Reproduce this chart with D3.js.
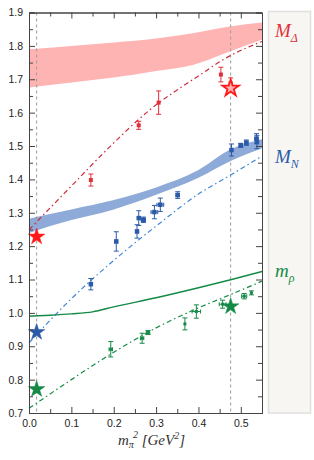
<!DOCTYPE html>
<html>
<head>
<meta charset="utf-8">
<script src="https://cdn.jsdelivr.net/npm/d3@7"></script>
<style>
  body { margin: 0; background: #fff; }
  svg text { font-family: "Liberation Sans", Arial, sans-serif; }
</style>
</head>
<body>
<svg id="chart"></svg>
<script>
// axis ticks
var xMajor = [0, 0.1, 0.2, 0.3, 0.4, 0.5];
var yMajor = [0.7, 0.8, 0.9, 1.0, 1.1, 1.2, 1.3, 1.4, 1.5, 1.6, 1.7, 1.8, 1.9];

// physical point and the heavy lattice point (vertical guides)
var guideX = [0.018, 0.476];

// bands: [m_pi^2, lower, upper]
var deltaBand = [[0, 1.675, 1.79], [0.1, 1.69, 1.80], [0.2, 1.705, 1.81], [0.3, 1.725, 1.822],
                 [0.387, 1.743, 1.838], [0.474, 1.783, 1.858], [0.55, 1.818, 1.87]];
var nucleonBand = [[0, 1.239, 1.282], [0.05, 1.26, 1.296], [0.1, 1.278, 1.31], [0.2, 1.31, 1.338],
                   [0.3, 1.354, 1.376], [0.4, 1.405, 1.428], [0.476, 1.455, 1.49], [0.55, 1.493, 1.52]];

// extrapolation curves: [m_pi^2, mass]
var deltaLine = [[0, 1.249], [0.1, 1.38], [0.183, 1.488], [0.285, 1.608], [0.4, 1.71], [0.474, 1.77], [0.55, 1.813]];
var nucleonLine = [[0, 0.91], [0.09, 1.03], [0.2, 1.157], [0.3, 1.26], [0.4, 1.356], [0.476, 1.413], [0.55, 1.47]];
var rhoLine = [[0, 0.714], [0.1, 0.80], [0.2, 0.882], [0.3, 0.955], [0.4, 1.015], [0.476, 1.055], [0.55, 1.095]];
var rhoCurve = [[0, 0.99], [0.05, 0.993], [0.1, 0.997], [0.15, 1.003], [0.2, 1.018], [0.3, 1.045],
                [0.4, 1.075], [0.476, 1.099], [0.55, 1.124]];

// lattice data: [m_pi^2, mass, err mass, err m_pi^2]
var deltaPts = [[0.146, 1.398, 0.018, 0], [0.259, 1.562, 0.012, 0], [0.306, 1.630, 0.035, 0],
                [0.453, 1.714, 0.022, 0], [0.476, 1.688, 0.016, 0]];
var nucleonPts = [[0.146, 1.086, 0.017, 0], [0.206, 1.214, 0.029, 0.003], [0.255, 1.244, 0.02, 0.003],
                  [0.259, 1.284, 0.022, 0], [0.270, 1.279, 0.008, 0.005], [0.296, 1.302, 0.02, 0.008],
                  [0.310, 1.324, 0.02, 0.008], [0.351, 1.353, 0.01, 0.004], [0.478, 1.488, 0.018, 0],
                  [0.500, 1.502, 0.006, 0.004], [0.513, 1.510, 0.008, 0.004], [0.537, 1.522, 0.015, 0.004],
                  [0.538, 1.512, 0.02, 0]];
var rhoPts = [[0.193, 0.891, 0.023, 0.004], [0.267, 0.924, 0.015, 0.004], [0.281, 0.941, 0.006, 0.004],
              [0.368, 0.967, 0.018, 0], [0.395, 1.004, 0.02, 0.01], [0.457, 1.026, 0.012, 0.008],
              [0.508, 1.050, 0.008, 0.006], [0.525, 1.060, 0.006, 0]];

// stars: experiment at physical point, and heavy-pion reference values
var stars = [[0.018, 1.228, "delta", true], [0.018, 0.942, "nucleon", true], [0.018, 0.771, "rho", true],
             [0.476, 1.673, "delta", false], [0.476, 1.019, "rho", true]];

var colors = {
    delta: "#e0313a", deltaLine: "#cc2a3c", deltaBand: "#ffb4b4", deltaStar: "#ff1a1a",
    nucleon: "#2b5ba8", nucleonLine: "#3f86d4", nucleonBand: "#8eaad8", nucleonStar: "#2b5ba8",
    rho: "#148a46", rhoStar: "#148a46"
};

var W = 314, H = 460;
var margin = { top: 12.5, right: 52, bottom: 47, left: 29 };

var svg = d3.select("#chart").attr("width", W).attr("height", H);

var x = d3.scaleLinear().domain([0, 0.55]).range([margin.left, W - margin.right]);
var y = d3.scaleLinear().domain([0.7, 1.9]).range([H - margin.bottom, margin.top]);

// side panel for labels
svg.append("rect")
    .attr("x", 268.5).attr("y", 11.5).attr("width", 42).attr("height", 401.5)
    .attr("fill", "#f7f6f3").attr("stroke", "#e1e0dd").attr("stroke-width", 1.5);

// bands
var area = d3.area().curve(d3.curveMonotoneX)
    .x(d => x(d[0])).y0(d => y(d[1])).y1(d => y(d[2]));
svg.append("path").datum(deltaBand).attr("fill", colors.deltaBand).attr("d", area);
svg.append("path").datum(nucleonBand).attr("fill", colors.nucleonBand).attr("d", area);

// guide lines
svg.selectAll(".guide").data(guideX).enter().append("line")
    .attr("x1", d => x(d)).attr("x2", d => x(d))
    .attr("y1", y(1.9)).attr("y2", y(0.7))
    .attr("stroke", "#9a9a9a").attr("stroke-width", 1).attr("stroke-dasharray", "3,3");

var line = d3.line().curve(d3.curveMonotoneX).x(d => x(d[0])).y(d => y(d[1]));

svg.append("path").datum(deltaLine).attr("fill", "none")
    .attr("stroke", colors.deltaLine).attr("stroke-width", 1.2).attr("stroke-dasharray", "5,3,1.5,3").attr("d", line);
svg.append("path").datum(nucleonLine).attr("fill", "none")
    .attr("stroke", colors.nucleonLine).attr("stroke-width", 1.2).attr("stroke-dasharray", "5,3,1.5,3").attr("d", line);
svg.append("path").datum(rhoLine).attr("fill", "none")
    .attr("stroke", colors.rho).attr("stroke-width", 1.2).attr("stroke-dasharray", "5,3,1.5,3").attr("d", line);
svg.append("path").datum(rhoCurve).attr("fill", "none")
    .attr("stroke", colors.rho).attr("stroke-width", 1.5).attr("d", line);

// error bars + markers
function drawPoints(data, color, size) {
    var g = svg.append("g").attr("stroke", color).attr("stroke-width", 1);
    data.forEach(d => {
        var cx = x(d[0]), cy = y(d[1]);
        if (d[2] > 0) {
            g.append("line").attr("x1", cx).attr("x2", cx).attr("y1", y(d[1] - d[2])).attr("y2", y(d[1] + d[2]));
            g.append("line").attr("x1", cx - 2.5).attr("x2", cx + 2.5).attr("y1", y(d[1] - d[2])).attr("y2", y(d[1] - d[2]));
            g.append("line").attr("x1", cx - 2.5).attr("x2", cx + 2.5).attr("y1", y(d[1] + d[2])).attr("y2", y(d[1] + d[2]));
        }
        if (d[3] > 0) {
            g.append("line").attr("x1", x(d[0] - d[3])).attr("x2", x(d[0] + d[3])).attr("y1", cy).attr("y2", cy);
            g.append("line").attr("x1", x(d[0] - d[3])).attr("x2", x(d[0] - d[3])).attr("y1", cy - 2).attr("y2", cy + 2);
            g.append("line").attr("x1", x(d[0] + d[3])).attr("x2", x(d[0] + d[3])).attr("y1", cy - 2).attr("y2", cy + 2);
        }
        g.append("rect").attr("x", cx - size / 2).attr("y", cy - size / 2)
            .attr("width", size).attr("height", size).attr("fill", color).attr("stroke", "none");
    });
}
drawPoints(deltaPts, colors.delta, 4);
drawPoints(nucleonPts, colors.nucleon, 4.5);
drawPoints(rhoPts, colors.rho, 3);

// stars
var star = d3.symbol().type(d3.symbolStar).size(85);
svg.selectAll(".star").data(stars).enter().append("path")
    .attr("transform", d => `translate(${x(d[0])},${y(d[1])})`)
    .attr("d", star)
    .attr("fill", d => d[3] ? colors[d[2] + "Star"] : "#ffb0b0")
    .attr("stroke", d => colors[d[2] + "Star"])
    .attr("stroke-width", d => d[3] ? 0.5 : 1.8);

// frame and ticks
var xMinor = d3.range(0.05, 0.55, 0.1);
var yMinor = d3.range(0.75, 1.9, 0.1);
var frame = "#444";

function styleAxis(g) {
    g.select(".domain").attr("stroke", frame);
    g.selectAll(".tick line").attr("stroke", frame);
    g.selectAll(".tick text").attr("fill", "#222").attr("font-size", 10.5);
}

svg.append("g").attr("transform", `translate(0,${y(0.7)})`)
    .call(d3.axisBottom(x).tickValues(xMajor).tickFormat(d3.format(".1f")).tickSize(-6).tickPadding(7))
    .call(styleAxis);
svg.append("g").attr("transform", `translate(0,${y(0.7)})`)
    .call(d3.axisBottom(x).tickValues(xMinor).tickFormat("").tickSize(-4).tickSizeOuter(0))
    .call(styleAxis);
svg.append("g").attr("transform", `translate(0,${y(1.9)})`)
    .call(d3.axisTop(x).tickValues(xMajor).tickFormat("").tickSize(-6))
    .call(styleAxis);
svg.append("g").attr("transform", `translate(0,${y(1.9)})`)
    .call(d3.axisTop(x).tickValues(xMinor).tickFormat("").tickSize(-4).tickSizeOuter(0))
    .call(styleAxis);

svg.append("g").attr("transform", `translate(${x(0)},0)`)
    .call(d3.axisLeft(y).tickValues(yMajor).tickFormat(d3.format(".1f")).tickSize(-6).tickPadding(6))
    .call(styleAxis);
svg.append("g").attr("transform", `translate(${x(0)},0)`)
    .call(d3.axisLeft(y).tickValues(yMinor).tickFormat("").tickSize(-4).tickSizeOuter(0))
    .call(styleAxis);
svg.append("g").attr("transform", `translate(${x(0.55)},0)`)
    .call(d3.axisRight(y).tickValues(yMajor).tickFormat("").tickSize(-6))
    .call(styleAxis);
svg.append("g").attr("transform", `translate(${x(0.55)},0)`)
    .call(d3.axisRight(y).tickValues(yMinor).tickFormat("").tickSize(-4).tickSizeOuter(0))
    .call(styleAxis);

// x-axis title
var xt = svg.append("text").attr("x", (x(0) + x(0.55)) / 2 + 6).attr("y", 445)
    .attr("text-anchor", "middle").attr("fill", "#333")
    .style("font-family", "'Liberation Serif', serif").style("font-style", "italic").attr("font-size", 15);
xt.append("tspan").text("m");
xt.append("tspan").attr("font-size", 10).attr("dy", 3).text("π");
xt.append("tspan").attr("font-size", 10).attr("dy", -10).attr("dx", -1).text("2");
xt.append("tspan").attr("dy", 7).text(" [GeV");
xt.append("tspan").attr("font-size", 10).attr("dy", -6).text("2");
xt.append("tspan").attr("dy", 6).text("]");

// series labels in the side panel
function label(yPos, main, sub, color) {
    var t = svg.append("text").attr("x", 275).attr("y", yPos).attr("fill", color)
        .style("font-family", "'Liberation Serif', serif").style("font-style", "italic").attr("font-size", 19);
    t.append("tspan").text(main);
    t.append("tspan").attr("font-size", 12).attr("dy", 5).text(sub);
}
label(37, "M", "Δ", colors.delta);
label(163, "M", "N", colors.nucleon);
label(277, "m", "ρ", colors.rho);
</script>
</body>
</html>
